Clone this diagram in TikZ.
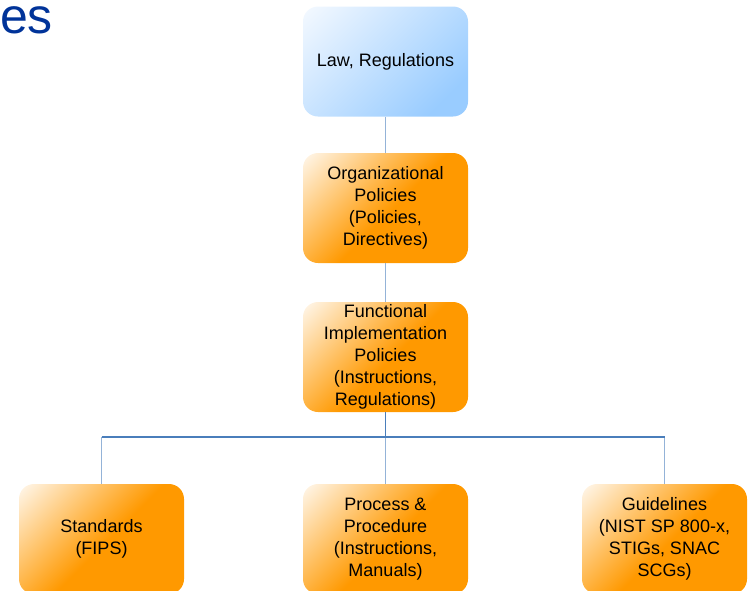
\documentclass[tikz,border=0pt]{standalone}
\usepackage{fontspec}
\setmainfont{Liberation Sans}
\definecolor{orD}{HTML}{FF9900}
\definecolor{orL}{HTML}{FFF4E4}
\definecolor{blD}{HTML}{99CCFF}
\definecolor{blL}{HTML}{F2F8FF}
\definecolor{lnD}{HTML}{4A7EBB}
\definecolor{lnL}{HTML}{94B3D8}
\definecolor{ttl}{HTML}{003399}
\pgfdeclareverticalshading{orsh}{100bp}{color(0bp)=(orD); color(48bp)=(orD); color(84bp)=(orL); color(100bp)=(orL)}
\pgfdeclareverticalshading{blsh}{100bp}{color(0bp)=(blD); color(25bp)=(blD); color(84bp)=(blL); color(100bp)=(blL)}
\tikzset{
  boxbase/.style={rounded corners=15pt, minimum width=165pt, minimum height=110pt, inner sep=0pt, align=center, text=black, font=\fontsize{18}{22}\selectfont},
  orbox/.style={boxbase, shading=orsh, shading angle=45},
  blbox/.style={boxbase, shading=blsh, shading angle=45},
  darkln/.style={draw=lnD, line width=1.2pt},
  lightln/.style={draw=lnL, line width=1.2pt}
}
\begin{document}
\begin{tikzpicture}[x=1pt,y=-1pt]
\useasboundingbox (0,0) rectangle (753,590);
\clip (0,0) rectangle (753,590);
\node[anchor=base west, inner sep=0pt, text=ttl, font=\fontsize{50}{50}\selectfont] (title) at (0,33) {es};
\node[blbox] (law) at (385.5,61.5) {Law, Regulations};
\node[orbox] (org) at (385.5,208) {Organizational\\Policies\\(Policies,\\Directives)};
\node[orbox] (func) at (385.5,357) {Functional\\Implementation\\Policies\\(Instructions,\\Regulations)};
\node[orbox] (std) at (101.5,539) {Standards\\(FIPS)};
\node[orbox] (proc) at (385.5,539) {Process \&\\Procedure\\(Instructions,\\Manuals)};
\node[orbox] (guide) at (664.5,539) {Guidelines\\(NIST SP 800-x,\\STIGs, SNAC\\SCGs)};
\coordinate (hub) at (385.5,437);
\coordinate (hl) at (101.5,437);
\coordinate (hr) at (664.5,437);
\draw[lightln] (law.south) -- (org.north);
\draw[lightln] (org.south) -- (func.north);
\draw[lightln] (hub) -- (proc.north);
\draw[lightln] (hl) -- (std.north);
\draw[lightln] (hr) -- (guide.north);
\draw[darkln] (func.south) -- (hub);
\draw[darkln] (hl) -- (hr);
\end{tikzpicture}
\end{document}
